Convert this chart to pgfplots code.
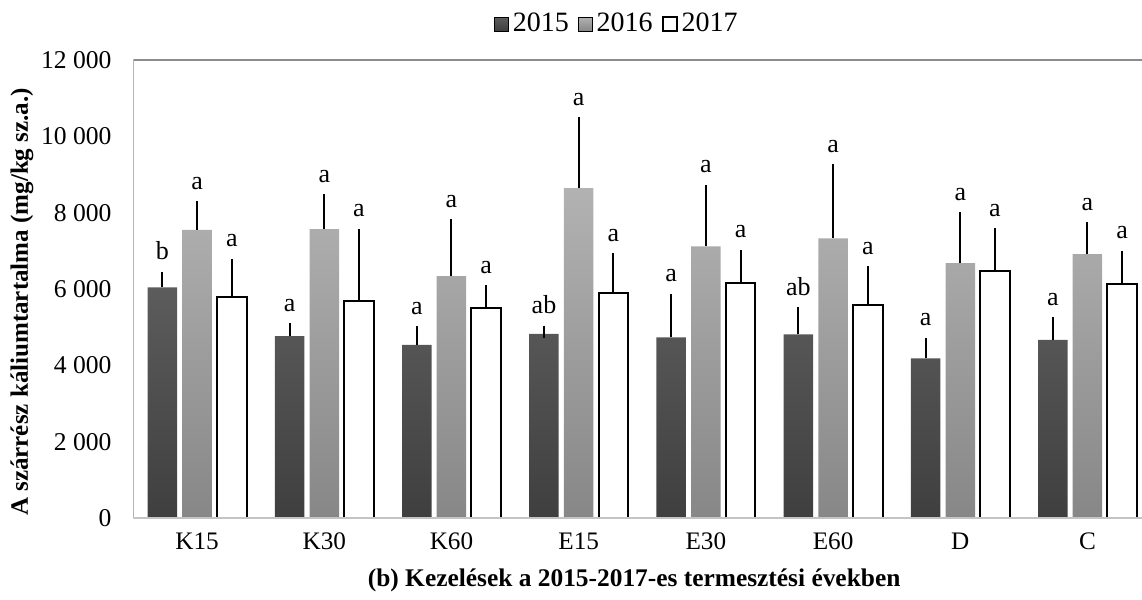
\documentclass[border=0pt]{standalone}
\usepackage{pgfplots}
\usepackage{pgfplotstable}
\pgfplotsset{compat=1.18}
\usepackage{fontspec}
\setmainfont{Liberation Serif}
\definecolor{darkT}{HTML}{5C5C5C}
\definecolor{darkB}{HTML}{3F3F3F}
\definecolor{lightT}{HTML}{B2B2B2}
\definecolor{lightB}{HTML}{878787}
\definecolor{frame}{HTML}{8C8C8C}
\definecolor{baseln}{HTML}{C4C4C4}

\pgfplotstableread{
x y err lab
0 6045 255 b
1 4768 176 a
2 4533 330 a
3 4821 60 ab
4 4734 985 a
5 4812 550 ab
6 4184 375 a
7 4664 440 a
}\dataA
\pgfplotstableread{
x y err lab
0 7546 600 a
1 7572 750 a
2 6340 1330 a
3 8646 1700 a
4 7118 1450 a
5 7328 1780 a
6 6681 1170 a
7 6917 675 a
}\dataB
\pgfplotstableread{
x y err lab
0 5785 850 a
1 5677 1740 a
2 5502 445 a
3 5903 880 a
4 6149 720 a
5 5581 860 a
6 6463 970 a
7 6139 707 a
}\dataC

\begin{document}
\begin{tikzpicture}
\begin{axis}[
  at={(0pt,0pt)}, anchor=south west,
  scale only axis,
  width=508.8pt, height=229pt,
  ybar=2.6pt, bar width=14.75pt,
  xmin=-0.5, xmax=7.5, ymin=0, ymax=12000,
  enlargelimits=false,
  axis line style={draw=none},
  xtick={0,...,7},
  xticklabels={K15,K30,K60,E15,E30,E60,D,C},
  ytick={0,2000,...,12000},
  major tick length=0pt,
  scaled y ticks=false,
  /pgf/number format/assume math mode=true,
  /pgf/number format/.cd, fixed, 1000 sep={\ },
  /pgfplots/.cd,
  yticklabel style={font=\fontsize{12.8}{14}\selectfont, xshift=-7.5pt},
  xticklabel style={font=\fontsize{12.6}{14}\selectfont, yshift=-4pt},
  xlabel={(b) Kezelések a 2015-2017-es termesztési években},
  ylabel={A szárrész káliumtartalma (mg/kg sz.a.)},
  every axis x label/.style={at={(axis description cs:0.492,0)}, anchor=center, yshift=-31pt, font=\bfseries\fontsize{12.7}{14}\selectfont},
  every axis y label/.style={at={(axis description cs:0,0.4716)}, xshift=-55.75pt, rotate=90, anchor=center, font=\bfseries\fontsize{12.5}{14}\selectfont},
  legend columns=3,
  legend style={draw=none, fill=none, at={(axis description cs:0.476,1.0786)}, anchor=center,
    font=\fontsize{14}{16}\selectfont, inner sep=0pt,
    /tikz/every even column/.append style={column sep=2.5pt},
    nodes={inner xsep=2pt, inner ysep=1pt}},
  legend image code/.code={\draw[#1] (0pt,-3.5pt) rectangle (7pt,3.5pt);},
  point meta=explicit symbolic,
  nodes near coords,
  visualization depends on={\thisrow{err} \as \errval},
  every node near coord/.append style={shift={(axis direction cs:0,\errval)}, anchor=base, yshift=9pt, black, font=\fontsize{13}{15}\selectfont},
  error bars/y dir=plus, error bars/y explicit,
  error bars/error bar style={black, line width=1pt},
  error bars/error mark options={black, line width=1pt, mark size=3pt},
]
\addplot[draw=none, top color=darkT, bottom color=darkB] table[x=x, y=y, y error=err, meta=lab] \dataA;
\addplot[draw=none, top color=lightT, bottom color=lightB] table[x=x, y=y, y error=err, meta=lab] \dataB;
\addplot[draw=black, fill=white, line width=1pt] table[x=x, y=y, y error=err, meta=lab] \dataC;
\legend{2015,2016,2017}
\draw[frame, line width=1pt] (rel axis cs:0,0) -- (rel axis cs:0,1) -- (rel axis cs:1,1);
\draw[baseln, line width=1pt] (rel axis cs:0,0) -- (rel axis cs:1,0);
\end{axis}
\pgfresetboundingbox
\path[use as bounding box] (-66.75pt,-41pt) rectangle (504.25pt,259pt);
\end{tikzpicture}
\end{document}
